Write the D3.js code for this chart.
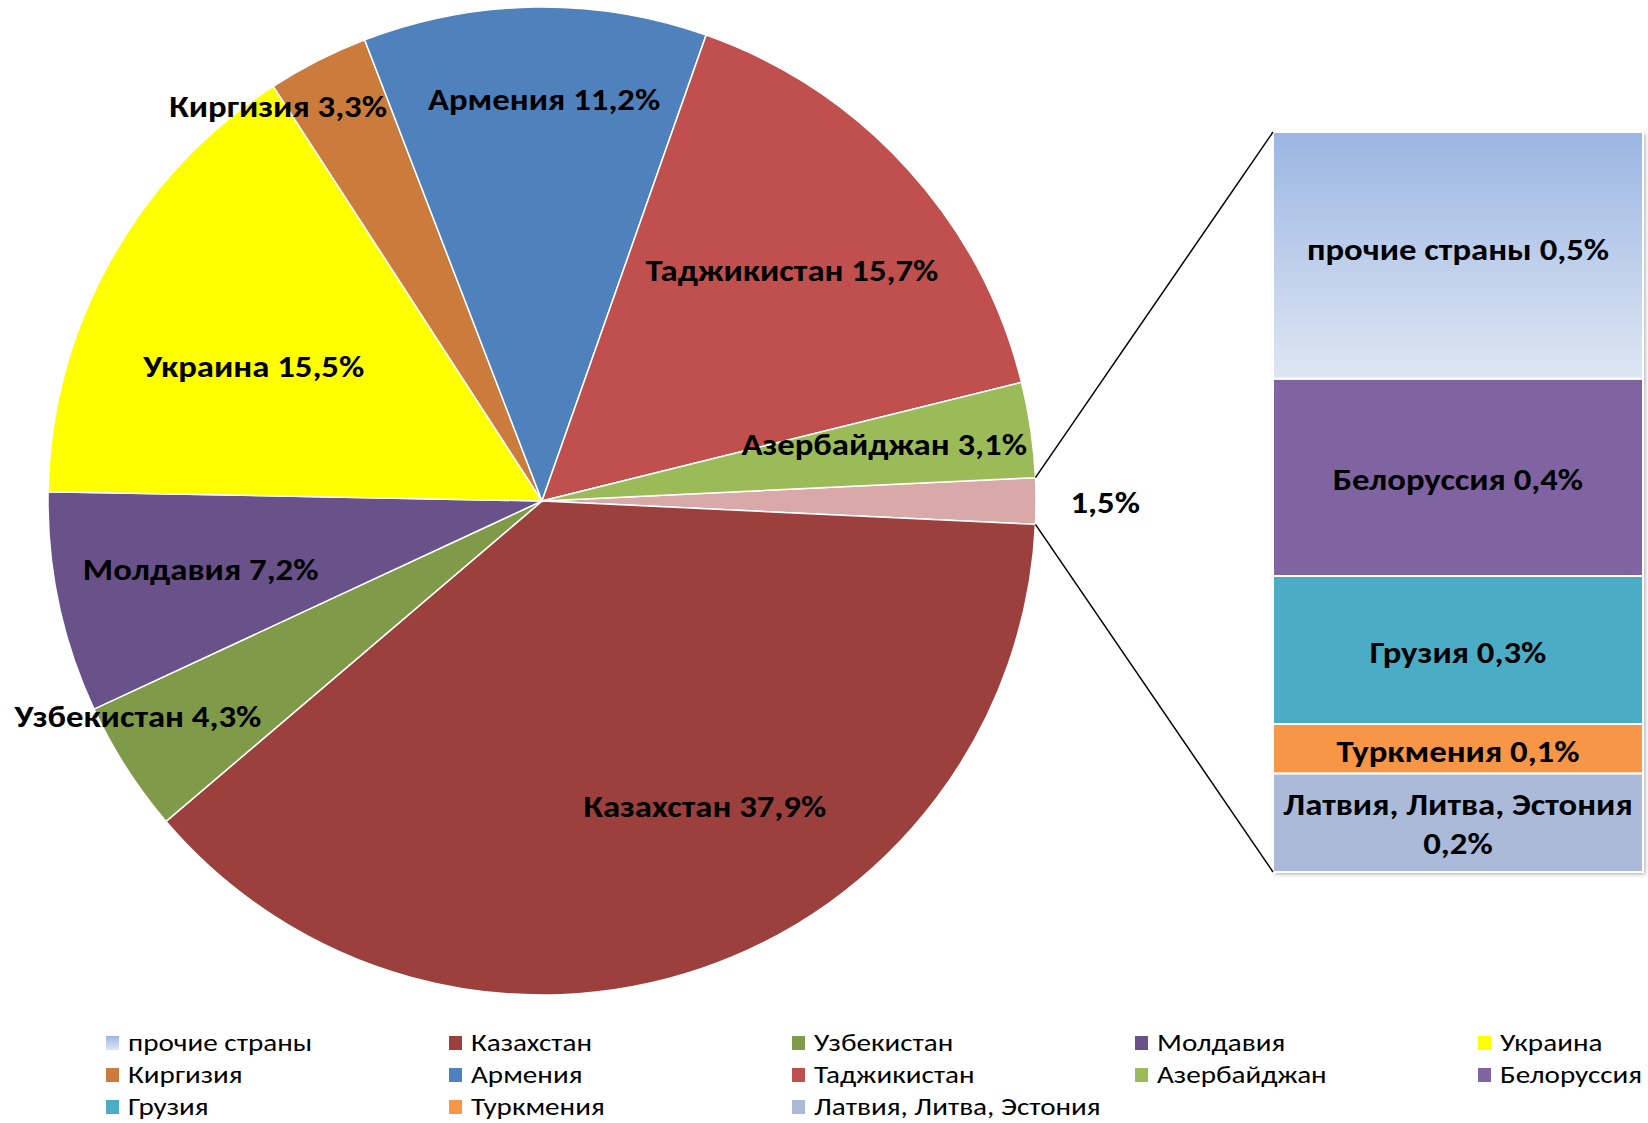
<html>
<head>
<meta charset="utf-8">
<script src="https://d3js.org/d3.v7.min.js"></script>
<style>
  body { margin: 0; background: #fff; }
  text { font-family: Carlito, Calibri, "Open Sans", sans-serif; }
</style>
</head>
<body>
<svg width="1648" height="1123"></svg>
<script>
// pie part (clockwise starting from the "other" slice)
const pieNames = ['other', 'Казахстан', 'Узбекистан', 'Молдавия', 'Украина', 'Киргизия', 'Армения', 'Таджикистан', 'Азербайджан'];
const pieValues = [1.5, 37.9, 4.3, 7.2, 15.5, 3.3, 11.2, 15.7, 3.1];
const pieLabels = ['1,5%', 'Казахстан 37,9%', 'Узбекистан 4,3%', 'Молдавия 7,2%', 'Украина 15,5%', 'Киргизия 3,3%', 'Армения 11,2%', 'Таджикистан 15,7%', 'Азербайджан 3,1%'];

// bar part (from bottom to top)
const barNames = ['Латвия, Литва, Эстония', 'Туркмения', 'Грузия', 'Белоруссия', 'прочие страны'];
const barValues = [0.2, 0.1, 0.3, 0.4, 0.5];
const barLabels = [['Латвия, Литва, Эстония', '0,2%'], ['Туркмения 0,1%'], ['Грузия 0,3%'], ['Белоруссия 0,4%'], ['прочие страны 0,5%']];

// legend order
const legendNames = ['прочие страны', 'Казахстан', 'Узбекистан', 'Молдавия', 'Украина', 'Киргизия', 'Армения', 'Таджикистан', 'Азербайджан', 'Белоруссия', 'Грузия', 'Туркмения', 'Латвия, Литва, Эстония'];

const colors = {
  'other': '#D9A8A8',
  'Казахстан': '#9C403E',
  'Узбекистан': '#7F9A48',
  'Молдавия': '#69518A',
  'Украина': '#FFFF00',
  'Киргизия': '#CB7B3B',
  'Армения': '#4F81BD',
  'Таджикистан': '#C0504D',
  'Азербайджан': '#9BBB59',
  'Белоруссия': '#8064A2',
  'Грузия': '#4BACC6',
  'Туркмения': '#F79646',
  'Латвия, Литва, Эстония': '#AABAD8',
  'прочие страны': 'url(#grad)'
};

const svg = d3.select('svg');
const defs = svg.append('defs');
const grad = defs.append('linearGradient').attr('id', 'grad')
  .attr('x1', 0).attr('y1', 0).attr('x2', 0).attr('y2', 1);
grad.append('stop').attr('offset', '0%').attr('stop-color', '#9BB6E3');
grad.append('stop').attr('offset', '100%').attr('stop-color', '#DEE6F3');
const sh = defs.append('filter').attr('id', 'shadow')
  .attr('x', '-5%').attr('y', '-5%').attr('width', '115%').attr('height', '115%');
sh.append('feDropShadow').attr('dx', 2).attr('dy', 2).attr('stdDeviation', 2)
  .attr('flood-color', '#000').attr('flood-opacity', 0.35);

// text in the picture is wider than the font we have
const labSX = 1.12, legSX = 1.24;

// pie
const cx = 542, cy = 501, r = 494;
const total = d3.sum(pieValues);
const otherAngle = pieValues[0] / total * 2 * Math.PI;
const start = Math.PI / 2 - otherAngle / 2;

const pie = d3.pie().sort(null).startAngle(start).endAngle(start + 2 * Math.PI);
const arcs = pie(pieValues);
const arc = d3.arc().innerRadius(0).outerRadius(r);
const labelArc = d3.arc().innerRadius(r * 0.7).outerRadius(r * 0.7);

const g = svg.append('g').attr('transform', 'translate(' + cx + ',' + cy + ')');
g.selectAll('path')
  .data(arcs)
  .enter()
  .append('path')
    .attr('d', arc)
    .attr('fill', function(d, i) { return colors[pieNames[i]]; })
    .attr('stroke', '#fff')
    .attr('stroke-width', 1.5);

// label nudges, Excel "best fit" placement
const nudge = [[5, 1], [51, -22], [-113, 28], [-3, -3], [14, 33], [-107, -87], [7, -56], [-6, 2], [0, -7]];
g.selectAll('text.pl')
  .data(arcs)
  .enter()
  .append('text')
    .attr('class', 'pl')
    .attr('transform', function(d, i) {
      let p;
      if (i == 0) {
        const a = (d.startAngle + d.endAngle) / 2;
        p = [Math.sin(a) * r * 1.13, -Math.cos(a) * r * 1.13];
      } else {
        p = labelArc.centroid(d);
      }
      return 'translate(' + (p[0] + nudge[i][0]) + ',' + (p[1] + nudge[i][1]) + ') scale(' + labSX + ',1)';
    })
    .attr('text-anchor', 'middle')
    .attr('dy', '0.35em')
    .style('font-size', '31px')
    .style('font-weight', 'bold')
    .text(function(d, i) { return pieLabels[i]; });

// bar
const barX = 1273, barW = 370;
const stackTop = d3.cumsum(barValues);
const y = d3.scaleLinear().domain([0, d3.sum(barValues)]).range([872, 132]);

const bar = svg.append('g');
bar.append('rect')
  .attr('x', barX).attr('y', y(d3.sum(barValues)))
  .attr('width', barW).attr('height', y(0) - y(d3.sum(barValues)))
  .attr('fill', '#fff')
  .attr('filter', 'url(#shadow)');
bar.selectAll('rect.seg')
  .data(barValues)
  .enter()
  .append('rect')
    .attr('class', 'seg')
    .attr('x', barX)
    .attr('y', function(d, i) { return y(stackTop[i]); })
    .attr('width', barW)
    .attr('height', function(d, i) { return y(stackTop[i] - d) - y(stackTop[i]); })
    .attr('fill', function(d, i) { return colors[barNames[i]]; })
    .attr('stroke', '#fff')
    .attr('stroke-width', 2);

const barNudge = [1, 2, 2, 2, -6];
bar.selectAll('text.bl')
  .data(barValues)
  .enter()
  .append('text')
    .attr('class', 'bl')
    .attr('transform', function(d, i) {
      const ym = (y(stackTop[i]) + y(stackTop[i] - d)) / 2 + barNudge[i];
      return 'translate(' + (barX + barW / 2) + ',' + ym + ') scale(' + labSX + ',1)';
    })
    .attr('text-anchor', 'middle')
    .style('font-size', '31px')
    .style('font-weight', 'bold')
    .each(function(d, i) {
      const lines = barLabels[i];
      const t = d3.select(this);
      lines.forEach(function(s, k) {
        t.append('tspan')
          .attr('x', 0)
          .attr('dy', k == 0 ? (0.35 - (lines.length - 1) * 0.63) + 'em' : '1.26em')
          .text(s);
      });
    });

// connector lines
const a0 = arcs[0];
const total2 = d3.sum(barValues);
svg.append('line')
  .attr('x1', cx + Math.sin(a0.startAngle) * r).attr('y1', cy - Math.cos(a0.startAngle) * r)
  .attr('x2', barX).attr('y2', y(total2))
  .attr('stroke', '#000').attr('stroke-width', 1.5);
svg.append('line')
  .attr('x1', cx + Math.sin(a0.endAngle) * r).attr('y1', cy - Math.cos(a0.endAngle) * r)
  .attr('x2', barX).attr('y2', y(0))
  .attr('stroke', '#000').attr('stroke-width', 1.5);

// legend
const legX = 106, legY = 1043, colW = 343, rowH = 32;
const leg = svg.append('g').selectAll('g')
  .data(legendNames)
  .enter()
  .append('g')
    .attr('transform', function(d, i) {
      return 'translate(' + (legX + (i % 5) * colW) + ',' + (legY + Math.floor(i / 5) * rowH) + ')';
    });
leg.append('rect')
  .attr('x', 0).attr('y', -7)
  .attr('width', 13).attr('height', 14)
  .attr('fill', function(d) { return colors[d]; });
leg.append('text')
  .attr('transform', 'translate(22,0) scale(' + legSX + ',1)')
  .attr('dy', '0.35em')
  .style('font-size', '23.5px')
  .text(function(d) { return d; });
</script>
</body>
</html>
